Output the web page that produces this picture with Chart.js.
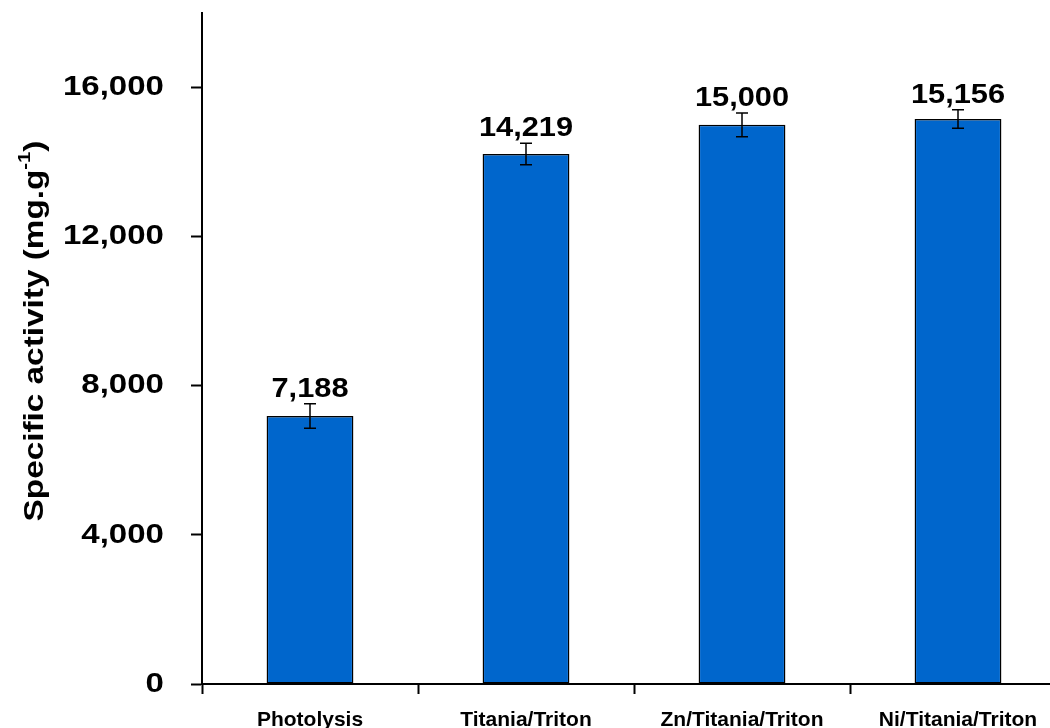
<!DOCTYPE html>
<html>
<head>
<meta charset="utf-8">
<title>Specific activity</title>
<script src="https://cdn.jsdelivr.net/npm/chart.js@4.4.1/dist/chart.umd.min.js"></script>
<style>
  html, body { margin: 0; padding: 0; background: #ffffff; overflow: hidden; }
  #wrap { width: 1100px; height: 728px; }
</style>
</head>
<body>
<div id="wrap"><canvas id="chart" width="1100" height="728"></canvas></div>
<script>
// Samples and their measured specific activity
const categories = ['Photolysis', 'Titania/Triton', 'Zn/Titania/Triton', 'Ni/Titania/Triton'];
const activity = [7188, 14219, 15000, 15156];
const activityError = [327, 287, 320, 247];
const yTicks = [0, 4000, 8000, 12000, 16000];
const yMax = 18000;
const yTitleMain = 'Specific activity (mg.g';
const yTitleSup = '-1';
const yTitleEnd = ')';

const FONT = '"Liberation Sans", Arial, Helvetica, sans-serif';
const fmt = v => v.toLocaleString('en-US');

// Draws horizontally widened text; returns the drawn width
function wideText(ctx, text, x, y, sx, align) {
  const w = ctx.measureText(text).width * sx;
  let left = x;
  if (align === 'center') left = x - w / 2;
  else if (align === 'right') left = x - w;
  ctx.save();
  ctx.translate(left, y);
  ctx.scale(sx, 1);
  ctx.textAlign = 'left';
  ctx.fillText(text, 0, 0);
  ctx.restore();
  return w;
}

// Y tick labels, error bars and value labels above each bar
const barExtras = {
  id: 'barExtras',
  afterDatasetsDraw(chart) {
    const ctx = chart.ctx;
    const y = chart.scales.y;
    const meta = chart.getDatasetMeta(0);
    ctx.save();
    ctx.fillStyle = '#000000';

    ctx.font = 'bold 28px ' + FONT;
    ctx.textBaseline = 'middle';
    yTicks.forEach(v => {
      wideText(ctx, fmt(v), 164, y.getPixelForValue(v), 1.18, 'right');
    });

    meta.data.forEach((bar, i) => {
      const v = activity[i], e = activityError[i];
      const yTop = y.getPixelForValue(v + e);
      const yBot = y.getPixelForValue(v - e);
      const x = bar.x;
      ctx.strokeStyle = '#000000';
      ctx.lineWidth = 1.5;
      ctx.beginPath();
      ctx.moveTo(x, yTop); ctx.lineTo(x, yBot);
      ctx.moveTo(x - 6, yTop); ctx.lineTo(x + 6, yTop);
      ctx.moveTo(x - 6, yBot); ctx.lineTo(x + 6, yBot);
      ctx.stroke();
      ctx.font = 'bold 28px ' + FONT;
      ctx.textBaseline = 'alphabetic';
      wideText(ctx, fmt(v), x, yTop - 7, 1.1, 'center');
    });
    ctx.restore();
  }
};

// Rotated y-axis title with a superscript exponent
const yTitle = {
  id: 'yTitle',
  afterDraw(chart) {
    const ctx = chart.ctx;
    const sx = 1.19;
    ctx.save();
    const main = 'bold 28px ' + FONT;
    const sup = 'bold 17px ' + FONT;
    ctx.font = main;
    const w1 = ctx.measureText(yTitleMain).width * sx;
    const w3 = ctx.measureText(yTitleEnd).width * sx;
    ctx.font = sup;
    const w2 = ctx.measureText(yTitleSup).width * sx;
    const total = w1 + w2 + w3;
    ctx.translate(43, 331);
    ctx.rotate(-Math.PI / 2);
    ctx.fillStyle = '#000000';
    ctx.textBaseline = 'alphabetic';
    let x = -total / 2;
    ctx.font = main;
    x += wideText(ctx, yTitleMain, x, 0, sx, 'left');
    ctx.font = sup;
    x += wideText(ctx, yTitleSup, x, -13, sx, 'left');
    ctx.font = main;
    wideText(ctx, yTitleEnd, x, 0, sx, 'left');
    ctx.restore();
  }
};

new Chart(document.getElementById('chart'), {
  type: 'bar',
  data: {
    labels: categories,
    datasets: [{
      data: activity,
      backgroundColor: '#0066CC',
      borderColor: '#000000',
      borderWidth: 1.5,
      borderSkipped: false,
      categoryPercentage: 1,
      barPercentage: 0.402
    }]
  },
  options: {
    responsive: false,
    animation: false,
    devicePixelRatio: 1,
    layout: { padding: { top: 13, right: 34, left: 0, bottom: 0 } },
    plugins: {
      legend: { display: false },
      tooltip: { enabled: false },
      title: { display: false }
    },
    scales: {
      x: {
        offset: true,
        grid: {
          offset: true,
          drawOnChartArea: false,
          drawTicks: true,
          tickLength: 10,
          tickColor: '#000000',
          tickWidth: 2
        },
        border: { display: true, color: '#000000', width: 2 },
        ticks: {
          color: '#000000',
          font: { family: FONT, size: 21, weight: 'bold' },
          padding: 14,
          maxRotation: 0,
          autoSkip: false
        },
        afterFit(scale) {
          scale.height = 44;
          scale.paddingLeft = 0; scale.paddingRight = 0;
        }
      },
      y: {
        min: 0,
        max: yMax,
        grid: {
          drawOnChartArea: false,
          drawTicks: true,
          tickLength: 11,
          tickColor: '#000000',
          tickWidth: 2
        },
        border: { display: true, color: '#000000', width: 2 },
        ticks: { display: false },
        afterBuildTicks(scale) {
          scale.ticks = yTicks.map(v => ({ value: v }));
        },
        afterFit(scale) {
          scale.width = 202;
          scale.paddingTop = 0; scale.paddingBottom = 0;
        }
      }
    }
  },
  plugins: [barExtras, yTitle]
});
</script>
</body>
</html>
